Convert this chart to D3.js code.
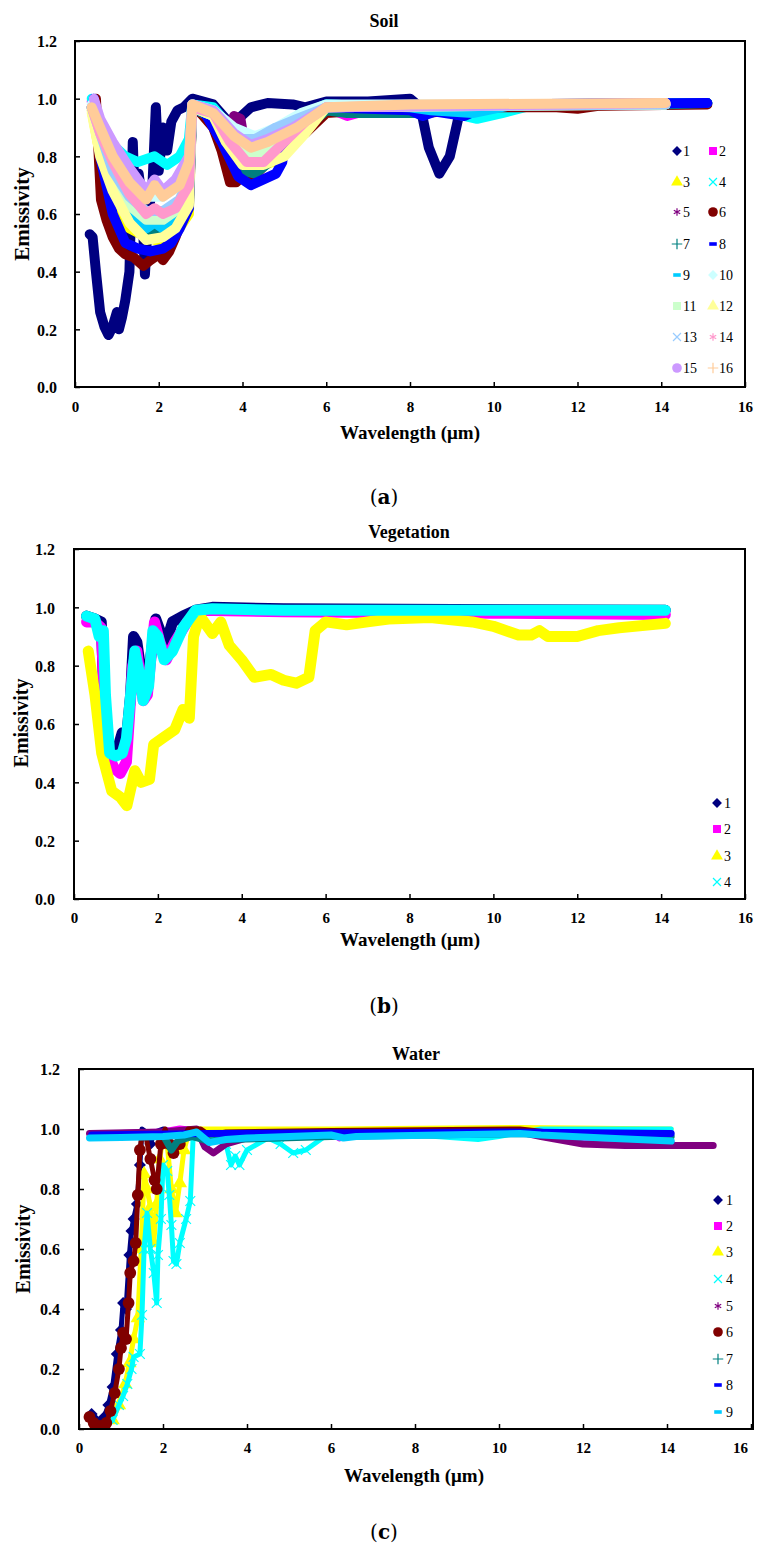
<!DOCTYPE html>
<html><head><meta charset="utf-8">
<script src="https://cdn.jsdelivr.net/npm/d3@7"></script>
<style>body{margin:0;background:#fff}svg{display:block}</style>
</head><body><svg id="chart" width="757" height="1548"></svg>
<script>
// ---------- DATA ----------
const xTicks = [0,2,4,6,8,10,12,14,16];
const yTicks = [0,0.2,0.4,0.6,0.8,1.0,1.2];

const soilNames = ["1","2","3","4","5","6","7","8","9","10","11","12","13","14","15","16"];
const soilColors = ["#000080","#FF00FF","#FFFF00","#00FFFF","#800080","#800000","#008080","#0000FF","#00CCFF","#CCFFFF","#CCFFCC","#FFFF99","#99CCFF","#FF99CC","#CC99FF","#FFCC99"];
const soilMarkers = ["diamond","square","triangle","times","asterisk","circle","plus","dash","dash","diamond","square","triangle","times","asterisk","circle","plus"];

const soil1 = [[0.35,0.53],[0.42,0.52],[0.5,0.4],[0.6,0.26],[0.7,0.21],[0.8,0.18],[0.9,0.21],[1.0,0.26],[1.05,0.2],[1.12,0.24],[1.2,0.3],[1.3,0.4],[1.38,0.85],[1.45,0.55],[1.52,0.74],[1.6,0.65],[1.67,0.39],[1.75,0.6],[1.85,0.7],[1.93,0.97],[2.0,0.75],[2.1,0.9],[2.2,0.82],[2.3,0.92],[2.45,0.96],[2.6,0.97],[2.8,1.0],[3.3,0.98],[3.6,0.93],[3.8,0.9],[3.9,0.93],[4.2,0.97],[4.6,0.985],[5.2,0.98],[5.5,0.97],[6.0,0.99],[7.0,0.99],[8.0,1.0],[8.25,0.97],[8.45,0.83],[8.7,0.74],[8.95,0.8],[9.15,0.93],[9.4,0.97],[10,0.98],[15.1,0.985]];
const soil2 = [[0.4,0.99],[0.6,0.85],[0.9,0.7],[1.3,0.62],[1.7,0.58],[2.1,0.58],[2.5,0.63],[2.72,0.7],[2.8,0.97],[3.3,0.94],[3.7,0.86],[4.1,0.8],[4.6,0.83],[5.3,0.9],[6.0,0.97],[6.5,0.94],[7.0,0.96],[8.0,0.97],[12,0.975],[14.1,0.985]];
const soil3 = [[0.4,0.96],[0.6,0.8],[0.9,0.65],[1.3,0.55],[1.7,0.52],[2.1,0.5],[2.4,0.53],[2.72,0.6],[2.8,0.97],[3.3,0.93],[3.7,0.83],[4.2,0.75],[4.7,0.78],[5.2,0.85],[5.7,0.92],[6.0,0.97],[8,0.97],[14.1,0.98]];
const soil4 = [[0.4,1.0],[0.6,0.92],[0.9,0.84],[1.2,0.8],[1.5,0.78],[1.9,0.8],[2.2,0.77],[2.5,0.8],[2.72,0.86],[2.8,0.98],[3.3,0.97],[3.7,0.9],[4.0,0.85],[4.5,0.87],[5.0,0.9],[5.5,0.95],[6.0,0.98],[8.0,0.97],[9.0,0.95],[9.6,0.93],[10.2,0.95],[11,0.98],[15.1,0.985]];
const soil5 = [[0.4,0.97],[0.6,0.85],[0.9,0.72],[1.3,0.62],[1.8,0.57],[2.3,0.58],[2.72,0.65],[2.8,0.97],[3.3,0.93],[3.6,0.88],[3.8,0.94],[3.95,0.93],[4.1,0.8],[4.5,0.82],[5.2,0.9],[6.0,0.96],[8,0.97],[14.1,0.98]];
const soil6 = [[0.5,1.0],[0.55,0.85],[0.62,0.65],[0.75,0.58],[0.9,0.52],[1.05,0.48],[1.2,0.46],[1.4,0.45],[1.63,0.42],[1.8,0.44],[2.0,0.46],[2.1,0.44],[2.25,0.47],[2.4,0.52],[2.6,0.6],[2.72,0.68],[2.8,0.97],[3.0,0.95],[3.3,0.9],[3.5,0.82],[3.7,0.71],[3.85,0.71],[4.05,0.74],[4.2,0.72],[4.6,0.78],[5.0,0.85],[5.5,0.88],[6.0,0.95],[7.0,0.96],[7.5,0.95],[8.4,0.95],[9.0,0.96],[10,0.97],[11.5,0.97],[12,0.965],[12.5,0.975],[15.1,0.98]];
const soil7 = [[0.4,0.97],[0.6,0.82],[0.9,0.7],[1.3,0.6],[1.7,0.54],[2.1,0.54],[2.5,0.57],[2.72,0.64],[2.8,0.97],[3.3,0.93],[3.6,0.83],[4.0,0.75],[4.3,0.74],[4.8,0.8],[5.3,0.87],[6.0,0.96],[6.5,0.95],[7.5,0.95],[8.1,0.95],[8.5,0.97],[10,0.975],[14,0.98],[15.1,0.985]];
const soil8 = [[0.45,1.0],[0.6,0.8],[0.9,0.6],[1.2,0.5],[1.5,0.48],[1.8,0.47],[2.1,0.48],[2.3,0.5],[2.5,0.55],[2.72,0.62],[2.8,0.97],[3.1,0.95],[3.5,0.85],[3.9,0.73],[4.2,0.7],[4.5,0.72],[4.8,0.74],[4.95,0.78],[5.0,0.85],[5.3,0.88],[5.6,0.93],[6.0,0.97],[8.0,0.96],[8.3,0.94],[8.6,0.955],[9.3,0.94],[9.6,0.96],[10,0.98],[15.1,0.985]];
const soil9 = [[0.4,0.97],[0.6,0.85],[0.9,0.72],[1.3,0.62],[1.7,0.55],[1.9,0.57],[2.1,0.55],[2.5,0.6],[2.72,0.67],[2.8,0.97],[3.3,0.94],[3.7,0.85],[4.0,0.8],[4.4,0.85],[5.0,0.88],[5.6,0.95],[6.0,0.98],[8,0.97],[8.5,0.96],[9.5,0.95],[10.5,0.98],[14.1,0.98]];
const soil10 = [[0.4,0.98],[0.6,0.9],[0.9,0.8],[1.3,0.72],[1.7,0.66],[2.1,0.66],[2.5,0.7],[2.72,0.78],[2.8,0.98],[3.3,0.96],[3.8,0.9],[4.3,0.87],[4.8,0.9],[5.4,0.95],[6,0.98],[14.1,0.98]];
const soil11 = [[0.4,0.97],[0.6,0.85],[0.9,0.72],[1.3,0.63],[1.7,0.58],[2.1,0.58],[2.5,0.62],[2.72,0.7],[2.8,0.97],[3.3,0.94],[3.8,0.85],[4.3,0.8],[4.8,0.83],[5.4,0.9],[6,0.97],[14.1,0.98]];
const soil12 = [[0.4,0.95],[0.6,0.8],[0.9,0.68],[1.3,0.57],[1.7,0.51],[2.1,0.52],[2.4,0.55],[2.72,0.63],[2.8,0.97],[3.3,0.94],[3.6,0.85],[4.0,0.77],[4.5,0.77],[5.0,0.8],[5.5,0.88],[6,0.97],[14.1,0.98]];
const soil13 = [[0.4,0.97],[0.6,0.88],[0.9,0.75],[1.3,0.66],[1.7,0.61],[2.1,0.61],[2.5,0.65],[2.72,0.72],[2.8,0.97],[3.3,0.95],[3.8,0.86],[4.3,0.86],[4.8,0.9],[5.3,0.93],[6,0.97],[14.1,0.98]];
const soil14 = [[0.4,0.97],[0.6,0.88],[0.9,0.78],[1.3,0.67],[1.7,0.6],[1.9,0.62],[2.1,0.6],[2.4,0.62],[2.72,0.7],[2.8,0.97],[3.3,0.95],[3.7,0.85],[4.1,0.78],[4.5,0.78],[5.0,0.85],[5.5,0.92],[6,0.97],[14.1,0.985]];
const soil15 = [[0.45,1.0],[0.6,0.93],[0.9,0.85],[1.3,0.76],[1.7,0.68],[1.9,0.72],[2.1,0.68],[2.4,0.72],[2.72,0.8],[2.8,0.98],[3.3,0.96],[3.8,0.88],[4.2,0.84],[4.6,0.86],[5.2,0.9],[6,0.97],[14.1,0.985]];
const soil16 = [[0.4,0.97],[0.6,0.9],[0.9,0.8],[1.3,0.71],[1.7,0.65],[1.9,0.7],[2.1,0.66],[2.5,0.7],[2.72,0.78],[2.8,0.98],[3.3,0.95],[3.8,0.87],[4.2,0.83],[4.6,0.85],[5.3,0.9],[6,0.97],[8,0.98],[14.1,0.985]];
const soilSeries = [soil1,soil2,soil3,soil4,soil5,soil6,soil7,soil8,soil9,soil10,soil11,soil12,soil13,soil14,soil15,soil16];

const vegNames = ["1","2","3","4"];
const vegColors = ["#000080","#FF00FF","#FFFF00","#00FFFF"];
const vegMarkers = ["diamond","square","triangle","times"];
const veg1 = [[0.3,0.97],[0.5,0.96],[0.65,0.95],[0.7,0.75],[0.78,0.55],[0.9,0.51],[1.05,0.52],[1.15,0.57],[1.25,0.55],[1.35,0.7],[1.42,0.9],[1.5,0.88],[1.6,0.78],[1.7,0.75],[1.8,0.8],[1.88,0.88],[1.95,0.96],[2.05,0.92],[2.2,0.88],[2.35,0.95],[2.6,0.97],[2.9,0.99],[3.3,1.0],[5,0.995],[14.1,0.99]];
const veg2 = [[0.3,0.95],[0.5,0.95],[0.65,0.93],[0.72,0.7],[0.8,0.5],[0.95,0.45],[1.1,0.43],[1.25,0.47],[1.32,0.62],[1.4,0.8],[1.5,0.85],[1.65,0.68],[1.75,0.7],[1.85,0.85],[1.92,0.95],[2.05,0.88],[2.2,0.82],[2.4,0.88],[2.7,0.95],[3.0,0.99],[5,0.985],[10,0.98],[14.1,0.975]];
const veg3 = [[0.34,0.85],[0.5,0.7],[0.66,0.5],[0.9,0.37],[1.1,0.35],[1.26,0.32],[1.45,0.44],[1.6,0.4],[1.8,0.41],[1.9,0.53],[2.1,0.55],[2.4,0.58],[2.6,0.65],[2.75,0.62],[2.85,0.9],[3.0,0.97],[3.3,0.91],[3.5,0.95],[3.7,0.87],[4.0,0.82],[4.3,0.76],[4.7,0.77],[5.0,0.75],[5.3,0.74],[5.6,0.76],[5.75,0.92],[6.0,0.95],[6.5,0.94],[7.0,0.95],[7.5,0.96],[8.5,0.965],[9.5,0.95],[10.0,0.935],[10.6,0.905],[10.9,0.905],[11.1,0.92],[11.3,0.9],[12,0.9],[12.5,0.92],[13,0.93],[14.1,0.945]];
const veg4 = [[0.3,0.97],[0.5,0.96],[0.6,0.9],[0.7,0.92],[0.75,0.7],[0.85,0.5],[1.0,0.49],[1.15,0.5],[1.25,0.55],[1.35,0.7],[1.45,0.85],[1.55,0.78],[1.65,0.68],[1.78,0.73],[1.88,0.92],[2.0,0.9],[2.15,0.82],[2.35,0.85],[2.6,0.93],[2.9,0.99],[3.3,0.995],[5,0.99],[9,0.99],[14.1,0.99]];
const vegSeries = [veg1,veg2,veg3,veg4];

const waterNames = ["1","2","3","4","5","6","7","8","9"];
const waterColors = ["#000080","#FF00FF","#FFFF00","#00FFFF","#800080","#800000","#008080","#0000FF","#00CCFF"];
const waterMarkers = ["diamond","square","triangle","times","asterisk","circle","plus","dash","dash"];
const water1 = [[0.3,0.05],[0.4,0.03],[0.5,0.02],[0.6,0.04],[0.7,0.08],[0.8,0.14],[0.9,0.25],[1.0,0.33],[1.05,0.42],[1.12,0.4],[1.2,0.58],[1.25,0.66],[1.3,0.7],[1.38,0.75],[1.45,0.88],[1.5,1.0],[1.6,0.99],[1.7,0.95],[1.8,0.99],[2.0,1.0],[2.3,0.99],[2.7,1.0],[3.0,0.99],[6,0.995],[10.5,1.0],[14.1,0.99]];
const water2 = [[0.3,0.985],[1.0,0.985],[2.0,0.99],[2.4,1.0],[3.0,0.99],[6.0,0.99],[6.2,0.97],[6.5,0.985],[10.5,0.995],[11.5,0.97],[12.5,0.955],[14.1,0.955]];
const water3 = [[0.4,0.01],[0.6,0.0],[0.8,0.03],[0.95,0.08],[1.1,0.15],[1.2,0.22],[1.3,0.3],[1.4,0.37],[1.48,0.6],[1.55,0.85],[1.62,0.8],[1.7,0.74],[1.78,0.62],[1.85,0.75],[1.92,0.9],[2.0,0.97],[2.1,0.95],[2.2,0.8],[2.3,0.72],[2.4,0.82],[2.5,0.93],[2.6,0.98],[2.8,1.0],[6,1.0],[10.5,1.005],[14.1,1.0]];
const water4 = [[0.35,0.0],[0.6,0.0],[0.8,0.03],[0.95,0.08],[1.05,0.11],[1.15,0.15],[1.25,0.2],[1.3,0.24],[1.45,0.25],[1.5,0.38],[1.55,0.6],[1.62,0.72],[1.7,0.6],[1.78,0.52],[1.85,0.42],[1.88,0.58],[1.95,0.7],[2.0,0.88],[2.1,0.86],[2.15,0.78],[2.2,0.68],[2.25,0.56],[2.32,0.55],[2.4,0.62],[2.55,0.7],[2.65,0.76],[2.72,0.98],[2.85,0.97],[3.3,0.97],[3.5,0.95],[3.62,0.88],[3.72,0.91],[3.82,0.88],[4.0,0.93],[4.5,0.97],[4.8,0.95],[5.1,0.92],[5.4,0.93],[5.9,0.98],[8,0.98],[9.5,0.965],[10,0.975],[11,1.0],[14.1,1.0]];
const water5 = [[0.25,0.985],[2.0,0.99],[2.8,1.0],[3.0,0.94],[3.2,0.92],[3.5,0.95],[4,0.97],[6,0.98],[10.5,0.99],[11,0.975],[12,0.95],[13,0.945],[15.1,0.945]];
const water6 = [[0.25,0.04],[0.35,0.02],[0.5,0.01],[0.65,0.02],[0.75,0.06],[0.85,0.12],[0.95,0.2],[1.0,0.27],[1.05,0.32],[1.12,0.3],[1.18,0.42],[1.22,0.52],[1.3,0.56],[1.35,0.62],[1.4,0.78],[1.45,0.93],[1.5,0.98],[1.6,0.97],[1.7,0.9],[1.8,0.83],[1.85,0.8],[1.95,0.95],[2.05,1.0],[2.15,0.95],[2.25,0.92],[2.4,0.95],[2.6,1.0],[2.9,1.0],[3.1,0.98],[3.5,0.99],[6,0.995],[10.5,1.0],[11.5,0.985],[13,0.975],[14.1,0.97]];
const water7 = [[0.3,0.975],[2.0,0.98],[2.2,0.93],[2.35,0.96],[2.7,0.975],[3.1,0.96],[3.5,0.965],[6,0.975],[10.5,0.985],[11.5,0.98],[14.1,0.975]];
const water8 = [[0.3,0.98],[3,0.985],[10,0.99],[14.1,0.985]];
const water9 = [[0.25,0.97],[1.0,0.972],[2.0,0.975],[2.5,0.98],[2.8,0.99],[3.1,0.955],[3.5,0.965],[4.0,0.97],[6.0,0.98],[6.3,0.97],[6.6,0.975],[10.5,0.985],[11,0.98],[12.5,0.97],[14.1,0.96]];
const waterSeries = [water1,water2,water3,water4,water5,water6,water7,water8,water9];

// ---------- DRAWING ----------
const svg = d3.select("#chart");
const SERIF = "'Liberation Serif','Times New Roman',serif";

function marker(sel, type, color, size) {
  const s = size || 8;
  if (type === "dash") {
    sel.append("rect").attr("x", -s*0.42).attr("y", -1.8).attr("width", s*0.84).attr("height", 3.6).attr("fill", color);
    return;
  }
  if (type === "diamond") {
    const h = s * 0.55;
    sel.append("path").attr("d", `M0,${-h}L${h},0L0,${h}L${-h},0Z`).attr("fill", color);
    return;
  }
  const map = {square:d3.symbolSquare, triangle:d3.symbolTriangle, circle:d3.symbolCircle,
               times:d3.symbolTimes, asterisk:d3.symbolAsterisk, plus:d3.symbolPlus};
  const stroked = (type === "times" || type === "asterisk" || type === "plus");
  const area = {square:50, triangle:48, circle:58, times:34, asterisk:30, plus:30}[type];
  const p = sel.append("path").attr("d", d3.symbol().type(map[type]).size(area * s * s / 64)());
  if (stroked) p.attr("fill","none").attr("stroke", color).attr("stroke-width", 1.2);
  else p.attr("fill", color);
}

function drawPanel(o) {
  const g = svg.append("g");
  const x = d3.scaleLinear().domain([0,16]).range([o.left, o.right]);
  const y = d3.scaleLinear().domain([0,1.2]).range([o.bottom, o.top]);
  const clipId = "clip" + o.id;
  svg.append("clipPath").attr("id", clipId).append("rect")
    .attr("x", o.left).attr("y", o.top).attr("width", o.frameRight - o.left).attr("height", o.bottom - o.top);
  const plot = g.append("g").attr("clip-path", `url(#${clipId})`);
  const line = d3.line().x(d => x(d[0])).y(d => y(d[1]));
  o.series.forEach((data, i) => {
    const isPts = o.pointMarkers && o.pointMarkers.includes(i);
    plot.append("path").datum(data).attr("d", line)
      .attr("fill","none").attr("stroke", o.colors[i]).attr("stroke-width", isPts ? o.lw - 2 : o.lw)
      .attr("stroke-linejoin","round").attr("stroke-linecap","round");
    if (isPts) {
      plot.selectAll(null).data(data.filter(d => d[1] < 0.96)).enter().append("g")
        .attr("transform", d => `translate(${x(d[0])},${y(d[1])})`)
        .each(function(){ marker(d3.select(this), o.markers[i], o.colors[i], 11); });
    }
  });

  // axes
  const xa = g.append("g").attr("transform", `translate(0,${o.bottom})`)
    .call(d3.axisBottom(x).tickValues(xTicks).tickFormat(d3.format("d")).tickSize(-5).tickPadding(0));
  xa.select(".domain").remove();
  xa.selectAll("line").attr("stroke","#000").attr("stroke-width",1.5);
  xa.selectAll("text").attr("y", o.xTickBase).attr("dy", 0)
    .attr("font-family", SERIF).attr("font-weight","bold").attr("font-size", 15).attr("fill","#000")
    .attr("x", d => d === 16 ? o.lastShift : 0);

  const ya = g.append("g").attr("transform", `translate(${o.left},0)`)
    .call(d3.axisLeft(y).tickValues(yTicks).tickFormat(d3.format(".1f")).tickSize(-5).tickPadding(0));
  ya.select(".domain").remove();
  ya.selectAll("line").attr("stroke","#000").attr("stroke-width",1.5);
  ya.selectAll("text").attr("x", o.yTickRight - o.left).attr("dy","0.36em")
    .attr("font-family", SERIF).attr("font-weight","bold").attr("font-size", 16).attr("fill","#000");

  g.append("rect").attr("x", o.left).attr("y", o.top).attr("width", o.frameRight - o.left).attr("height", o.bottom - o.top)
    .attr("fill","none").attr("stroke","#000").attr("stroke-width",2);

  // titles
  g.append("text").attr("x", o.titleX).attr("y", o.titleY).attr("text-anchor","middle")
    .attr("font-family", SERIF).attr("font-weight","bold").attr("font-size", 18).text(o.title);
  g.append("text").attr("x", o.xTitleX).attr("y", o.xTitleY).attr("text-anchor","middle")
    .attr("font-family", SERIF).attr("font-weight","bold").attr("font-size", 19).text("Wavelength (μm)");
  g.append("text").attr("transform", `translate(${o.yTitleX},${o.yTitleY}) rotate(-90)`).attr("text-anchor","middle")
    .attr("dy","0.35em").attr("font-family", SERIF).attr("font-weight","bold").attr("font-size", o.yTitleSize).text("Emissivity");
  const lab = g.append("text").attr("x", 384).attr("y", o.labelY).attr("text-anchor","middle")
    .attr("font-family","'DejaVu Serif','Liberation Serif',serif").attr("font-size", 20);
  lab.append("tspan").text("(");
  lab.append("tspan").attr("font-weight","bold").text(o.label);
  lab.append("tspan").text(")");

  // legend
  o.names.forEach((nm, i) => {
    const p = o.legendPos(i);
    const lg = g.append("g").attr("transform", `translate(${p[0]},${p[1]})`);
    marker(lg, o.markers[i], o.colors[i], 9);
    lg.append("text").attr("x", o.legendTextDx).attr("y", 5).attr("font-family", SERIF).attr("font-size", 14).text(nm);
  });
}

const soilRows = [151,182,212,244,275,306,337,368];
drawPanel({id:"a", left:75, right:745, frameRight:745, top:41, bottom:387,
  series: soilSeries, colors: soilColors, markers: soilMarkers, names: soilNames, lw: 10,
  xTickBase: 25, lastShift: 0, yTickRight: 57,
  title:"Soil", titleX:384, titleY:27, xTitleX:410, xTitleY:439, yTitleX:22, yTitleY:214, yTitleSize:21,
  label:"a", labelY:504,
  legendPos: i => [i % 2 === 0 ? 677 : 713, soilRows[Math.floor(i/2)]], legendTextDx: 6});

const vegRows = [803,829,856,882];
drawPanel({id:"b", left:74, right:745, frameRight:745, top:549, bottom:899,
  series: vegSeries, colors: vegColors, markers: vegMarkers, names: vegNames, lw: 11,
  xTickBase: 24, lastShift: 0, yTickRight: 55,
  title:"Vegetation", titleX:409, titleY:538, xTitleX:410, xTitleY:946, yTitleX:21, yTitleY:723, yTitleSize:20,
  label:"b", labelY:1013,
  legendPos: i => [717, vegRows[i]], legendTextDx: 7});

const waterRows = [1200,1226,1252,1279,1306,1332,1359,1385,1412];
drawPanel({id:"c", left:79, right:751, frameRight:753, top:1069, bottom:1429,
  series: waterSeries, colors: waterColors, markers: waterMarkers, names: waterNames, lw: 7,
  pointMarkers:[0,2,3,5],
  xTickBase: 24, lastShift: -11, yTickRight: 60,
  title:"Water", titleX:416, titleY:1060, xTitleX:414, xTitleY:1482, yTitleX:23, yTitleY:1249, yTitleSize:20,
  label:"c", labelY:1539,
  legendPos: i => [718, waterRows[i]], legendTextDx: 8});
</script></body></html>
